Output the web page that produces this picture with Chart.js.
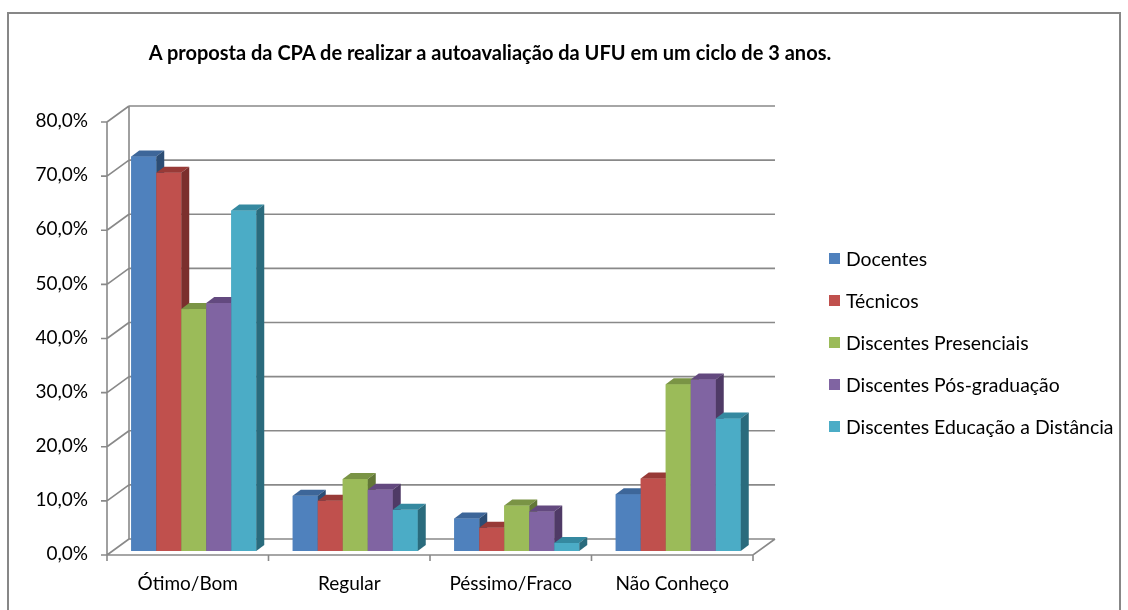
<!DOCTYPE html>
<html><head><meta charset="utf-8">
<script src="https://cdn.jsdelivr.net/npm/chart.js@4.4.0/dist/chart.umd.min.js"></script>
<style>
html,body{margin:0;padding:0;background:#fff;}
#wrap{position:relative;width:1128px;height:610px;overflow:hidden;font-family:Lato,sans-serif;}
#frame{position:absolute;left:7px;top:12px;width:1114px;height:640px;border:2px solid #878787;box-sizing:border-box;}
#title{position:absolute;left:0;width:980px;top:39px;text-align:center;font-weight:bold;font-size:20px;line-height:26px;color:#000;}
canvas{position:absolute;left:0;top:0;}
#legend{position:absolute;left:829px;top:237px;}
.item{height:42px;display:flex;align-items:center;font-size:19.4px;color:#000;white-space:nowrap;}
.sw{width:11px;height:11px;margin-right:6px;flex:none;}
</style></head>
<body><div id="wrap">
<div id="frame"></div>
<canvas id="c" width="1128" height="610"></canvas>
<div id="title">A proposta da CPA de realizar a autoavaliação da UFU em um ciclo de 3 anos.</div>
<div id="legend"></div>
</div>
<script>
const categories = ['Ótimo/Bom', 'Regular', 'Péssimo/Fraco', 'Não Conheço'];
const seriesNames = ['Docentes', 'Técnicos', 'Discentes Presenciais', 'Discentes Pós-graduação', 'Discentes Educação a Distância'];
const docentes = [72.9, 10.2, 6.0, 10.5];
const tecnicos = [69.9, 9.3, 4.3, 13.4];
const discentesPresenciais = [44.7, 13.3, 8.4, 30.8];
const discentesPosGraduacao = [45.8, 11.3, 7.3, 31.7];
const discentesEAD = [62.9, 7.6, 1.5, 24.5];
const yTickValues = [0, 10, 20, 30, 40, 50, 60, 70, 80];

const seriesValues = [docentes, tecnicos, discentesPresenciais, discentesPosGraduacao, discentesEAD];
const frontColors = ['#4F81BD', '#C0504D', '#9BBB59', '#8064A2', '#4BACC6'];
const topColors = ['#3D6699', '#983A37', '#7A9445', '#63497F', '#3589A0'];
const sideColors = ['#2C4D74', '#7B2F2D', '#627737', '#4F3A66', '#2A6B7D'];

const FONT = 'Lato, sans-serif';
const BACK = {dx: 16, dy: -12};
const FRONT = {dx: -6, dy: 4};
const DEPTH = {dx: 8, dy: -6};

const legend = document.getElementById('legend');
seriesNames.forEach((n, i) => {
  const d = document.createElement('div'); d.className = 'item';
  const s = document.createElement('span'); s.className = 'sw'; s.style.background = frontColors[i];
  d.appendChild(s); d.appendChild(document.createTextNode(n)); legend.appendChild(d);
});

const excel3d = {
  id: 'excel3d',
  beforeDatasetsDraw(chart) {
    const ctx = chart.ctx, a = chart.chartArea, ys = chart.scales.y;
    ctx.save();
    ctx.strokeStyle = '#898989';
    ctx.lineWidth = 1.6;
    const bl = a.left + BACK.dx, br = a.right + BACK.dx;
    const fl = a.left + FRONT.dx, fr = a.right + FRONT.dx;
    ctx.beginPath();
    yTickValues.forEach(v => {
      const p = ys.getPixelForValue(v);
      ctx.moveTo(bl, p + BACK.dy); ctx.lineTo(br, p + BACK.dy);
      ctx.moveTo(fl, p + FRONT.dy); ctx.lineTo(bl, p + BACK.dy);
      ctx.moveTo(fl - 6, p + FRONT.dy); ctx.lineTo(fl, p + FRONT.dy);
    });
    const y0 = ys.getPixelForValue(yTickValues[0]);
    const yMax = ys.getPixelForValue(yTickValues[yTickValues.length - 1]);
    ctx.moveTo(bl, y0 + BACK.dy); ctx.lineTo(bl, yMax + BACK.dy);
    ctx.moveTo(fl, y0 + FRONT.dy); ctx.lineTo(fl, yMax + FRONT.dy);
    ctx.moveTo(fl, y0 + FRONT.dy); ctx.lineTo(fr, y0 + FRONT.dy); ctx.lineTo(br, y0 + BACK.dy);
    const n = categories.length, w = (a.right - a.left) / n;
    for (let i = 0; i <= n; i++) {
      const x = fl + i * w;
      ctx.moveTo(x, y0 + FRONT.dy); ctx.lineTo(x, y0 + FRONT.dy + 6);
    }
    ctx.stroke();
    ctx.restore();
  },
  afterDatasetsDraw(chart) {
    const ctx = chart.ctx;
    ctx.save();
    for (let i = 0; i < categories.length; i++) {
      for (let d = 0; d < seriesValues.length; d++) {
        const el = chart.getDatasetMeta(d).data[i];
        const {x, y, base, width} = el.getProps(['x', 'y', 'base', 'width'], true);
        const l = x - width / 2, r = x + width / 2;
        ctx.fillStyle = frontColors[d];
        ctx.fillRect(l, y, r - l, base - y);
        ctx.fillStyle = topColors[d];
        ctx.beginPath();
        ctx.moveTo(l, y); ctx.lineTo(l + DEPTH.dx, y + DEPTH.dy); ctx.lineTo(r + DEPTH.dx, y + DEPTH.dy); ctx.lineTo(r, y); ctx.closePath(); ctx.fill();
        ctx.fillStyle = sideColors[d];
        ctx.beginPath();
        ctx.moveTo(r, y); ctx.lineTo(r + DEPTH.dx, y + DEPTH.dy); ctx.lineTo(r + DEPTH.dx, base + DEPTH.dy); ctx.lineTo(r, base); ctx.closePath(); ctx.fill();
      }
    }
    ctx.restore();
  }
};

new Chart(document.getElementById('c'), {
  type: 'bar',
  data: {
    labels: categories,
    datasets: seriesNames.map((n, i) => ({
      label: n,
      data: seriesValues[i],
      backgroundColor: frontColors[i],
      borderWidth: 0,
      barPercentage: 1,
      categoryPercentage: 0.774
    }))
  },
  options: {
    responsive: false,
    animation: false,
    layout: {padding: {top: 118, right: 369, bottom: 0, left: 0}},
    plugins: {legend: {display: false}, title: {display: false}, tooltip: {enabled: false}},
    scales: {
      y: {
        min: 0, max: 80,
        ticks: {stepSize: 10, padding: 25, labelOffset: 3, color: '#000', font: {family: FONT, size: 19},
          callback: v => v.toFixed(1).replace('.', ',') + '%'},
        grid: {display: false, drawTicks: false},
        border: {display: false},
        afterFit: s => { s.width = 113; }
      },
      x: {
        ticks: {padding: 21, labelOffset: -6, color: '#000', font: {family: FONT, size: 19}, maxRotation: 0},
        grid: {display: false, drawTicks: false},
        border: {display: false},
        afterFit: s => { s.height = 59; }
      }
    }
  },
  plugins: [excel3d]
});
</script>
</body></html>
